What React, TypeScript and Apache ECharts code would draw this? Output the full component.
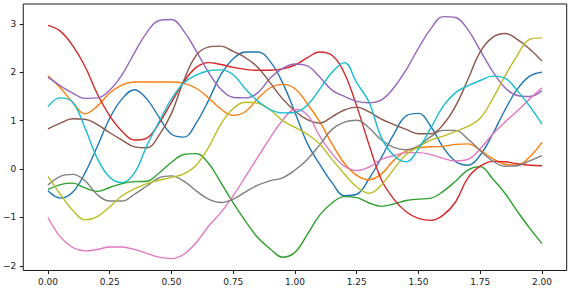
import React, { useEffect, useRef } from "react";
import * as echarts from "echarts";

const xValues = [
  0, 0.05, 0.1, 0.15, 0.2, 0.25, 0.3, 0.35, 0.4, 0.45, 0.5, 0.55, 0.6, 0.65, 0.7, 0.75, 0.8, 0.85, 0.9, 0.95,
  1.0, 1.05, 1.1, 1.15, 1.2, 1.25, 1.3, 1.35, 1.4, 1.45, 1.5, 1.55, 1.6, 1.65, 1.7, 1.75, 1.8, 1.85, 1.9, 1.95, 2.0,
];

const blue = [
  -0.45, -0.6, -0.48, -0.08, 0.47, 1.05, 1.45, 1.64, 1.45, 1.07, 0.72, 0.66, 0.95, 1.42, 1.95, 2.28, 2.42, 2.42, 2.22, 1.78,
  1.17, 0.53, 0.1, -0.28, -0.55, -0.52, -0.2, 0.24, 0.72, 1.1, 1.15, 0.88, 0.45, 0.16, 0.08, 0.29, 0.72, 1.22, 1.65, 1.92, 2.0,
];
const orange = [
  1.93, 1.68, 1.38, 1.14, 1.3, 1.57, 1.74, 1.8, 1.8, 1.8, 1.8, 1.77, 1.67, 1.47, 1.24, 1.11, 1.19, 1.46, 1.68, 1.75,
  1.66, 1.35, 0.98, 0.52, 0.12, -0.13, -0.22, -0.1, 0.18, 0.37, 0.44, 0.46, 0.47, 0.51, 0.52, 0.39, 0.22, 0.1, 0.08, 0.25, 0.55,
];
const green = [
  -0.42, -0.32, -0.29, -0.39, -0.46, -0.38, -0.3, -0.26, -0.25, -0.08, 0.14, 0.3, 0.32, 0.12, -0.28, -0.7, -1.08, -1.42, -1.65, -1.82,
  -1.72, -1.35, -0.95, -0.7, -0.57, -0.59, -0.7, -0.77, -0.72, -0.65, -0.62, -0.6, -0.46, -0.25, -0.02, 0.05, -0.2, -0.5, -0.87, -1.22, -1.54,
];
const red = [
  2.97, 2.85, 2.55, 2.12, 1.55, 1.1, 0.78, 0.6, 0.64, 0.95, 1.38, 1.8, 2.1, 2.2, 2.16, 2.1, 2.06, 2.04, 2.04, 2.07,
  2.15, 2.3, 2.42, 2.35, 1.98, 1.3, 0.5, -0.22, -0.62, -0.88, -1.02, -1.06, -0.95, -0.68, -0.18, 0.06, 0.16, 0.15, 0.11, 0.08, 0.07,
];
const purple = [
  1.9, 1.72, 1.57, 1.46, 1.47, 1.63, 1.95, 2.4, 2.82, 3.07, 3.09, 2.85, 2.44, 2.0, 1.65, 1.48, 1.47, 1.58, 1.88, 2.08,
  2.17, 2.13, 1.9, 1.63, 1.5, 1.4, 1.37, 1.43, 1.68, 2.05, 2.5, 2.9, 3.15, 3.13, 2.88, 2.45, 2.02, 1.68, 1.52, 1.5, 1.62,
];
const brown = [
  0.83, 0.95, 1.04, 1.03, 0.92, 0.75, 0.6, 0.46, 0.44, 0.7, 1.15, 1.83, 2.35, 2.52, 2.54, 2.43, 2.3, 2.1, 1.78, 1.45,
  1.2, 1.02, 0.95, 1.08, 1.22, 1.28, 1.18, 1.03, 0.92, 0.82, 0.73, 0.73, 0.92, 1.3, 1.85, 2.42, 2.72, 2.8, 2.68, 2.48, 2.23,
];
const pink = [
  -1.0, -1.4, -1.62, -1.69, -1.66, -1.61, -1.61, -1.66, -1.74, -1.82, -1.85, -1.76, -1.52, -1.18, -0.9, -0.55, -0.15, 0.25, 0.65, 1.01,
  1.23, 1.12, 0.68, 0.32, 0.06, -0.03, 0.04, 0.2, 0.28, 0.34, 0.34, 0.3, 0.22, 0.17, 0.2, 0.42, 0.72, 0.97, 1.2, 1.45, 1.68,
];
const gray = [
  -0.33, -0.15, -0.11, -0.24, -0.53, -0.66, -0.66, -0.52, -0.35, -0.18, -0.14, -0.25, -0.45, -0.62, -0.69, -0.62, -0.47, -0.33, -0.24, -0.18,
  -0.02, 0.2, 0.5, 0.82, 0.97, 1.01, 0.85, 0.6, 0.45, 0.4, 0.48, 0.67, 0.8, 0.8, 0.62, 0.38, 0.17, 0.06, 0.07, 0.17, 0.28,
];
const olive = [
  -0.15, -0.52, -0.85, -1.05, -0.98, -0.78, -0.55, -0.41, -0.3, -0.23, -0.17, -0.1, 0.08, 0.45, 0.93, 1.25, 1.38, 1.36, 1.22, 1.0,
  0.86, 0.72, 0.52, 0.2, -0.1, -0.37, -0.5, -0.33, 0.0, 0.3, 0.46, 0.6, 0.68, 0.78, 0.88, 1.05, 1.45, 1.92, 2.35, 2.68, 2.71,
];
const cyan = [
  1.29, 1.47, 1.38, 0.85, 0.22, -0.17, -0.28, -0.08, 0.48, 0.98, 1.45, 1.78, 1.94, 2.03, 2.05, 1.95, 1.65, 1.4, 1.23, 1.16,
  1.17, 1.32, 1.65, 2.0, 2.2, 1.78, 1.38, 0.65, 0.28, 0.15, 0.42, 0.85, 1.3, 1.58, 1.72, 1.83, 1.92, 1.88, 1.62, 1.3, 0.93,
];

const seriesList = [blue, orange, green, red, purple, brown, pink, gray, olive, cyan];
const seriesColors = [
  "#1f77b4", "#ff7f0e", "#2ca02c", "#d62728", "#9467bd",
  "#8c564b", "#e377c2", "#7f7f7f", "#bcbd22", "#17becf",
];

const xTicks = [0, 0.25, 0.5, 0.75, 1.0, 1.25, 1.5, 1.75, 2.0];
const yTicks = [-2, -1, 0, 1, 2, 3];

export default function App() {
  const ref = useRef<HTMLDivElement>(null);

  useEffect(() => {
    if (!ref.current) return;
    const chart = echarts.init(ref.current, null, { renderer: "svg" });
    const font = "DejaVu Sans";
    chart.setOption({
      animation: false,
      backgroundColor: "#ffffff",
      grid: {
        left: 18.3,
        right: 6.3,
        top: 4,
        bottom: 25.5,
        show: true,
        borderColor: "#1a1a1a",
        borderWidth: 1,
        backgroundColor: "transparent",
      },
      xAxis: {
        type: "value",
        min: -0.1,
        max: 2.1,
        axisLine: { show: false, onZero: false },
        splitLine: { show: false },
        axisTick: {
          show: true,
          customValues: xTicks,
          length: 3.5,
          lineStyle: { color: "#1a1a1a", width: 1 },
        },
        axisLabel: {
          customValues: xTicks,
          formatter: (v: number) => v.toFixed(2),
          fontFamily: font,
          fontSize: 9,
          color: "#1a1a1a",
          margin: 7,
        },
      },
      yAxis: {
        type: "value",
        min: -2.095,
        max: 3.41,
        axisLine: { show: false, onZero: false },
        splitLine: { show: false },
        axisTick: {
          show: true,
          customValues: yTicks,
          length: 3.5,
          lineStyle: { color: "#1a1a1a", width: 1 },
        },
        axisLabel: {
          customValues: yTicks,
          formatter: (v: number) => String(v).replace("-", "\u2212"),
          fontFamily: font,
          fontSize: 9,
          color: "#1a1a1a",
          margin: 7,
        },
      },
      series: seriesList.map((vals, i) => ({
        type: "line",
        data: xValues.map((x, j) => [x, vals[j]]),
        smooth: 0.4,
        showSymbol: false,
        symbol: "none",
        lineStyle: { color: seriesColors[i], width: 1.4 },
        itemStyle: { color: seriesColors[i] },
        z: 2 + i,
      })),
    });
    return () => chart.dispose();
  }, []);

  return (
    <div
      ref={ref}
      style={{ position: "fixed", left: 0, top: 0, width: 573, height: 296 }}
    />
  );
}
